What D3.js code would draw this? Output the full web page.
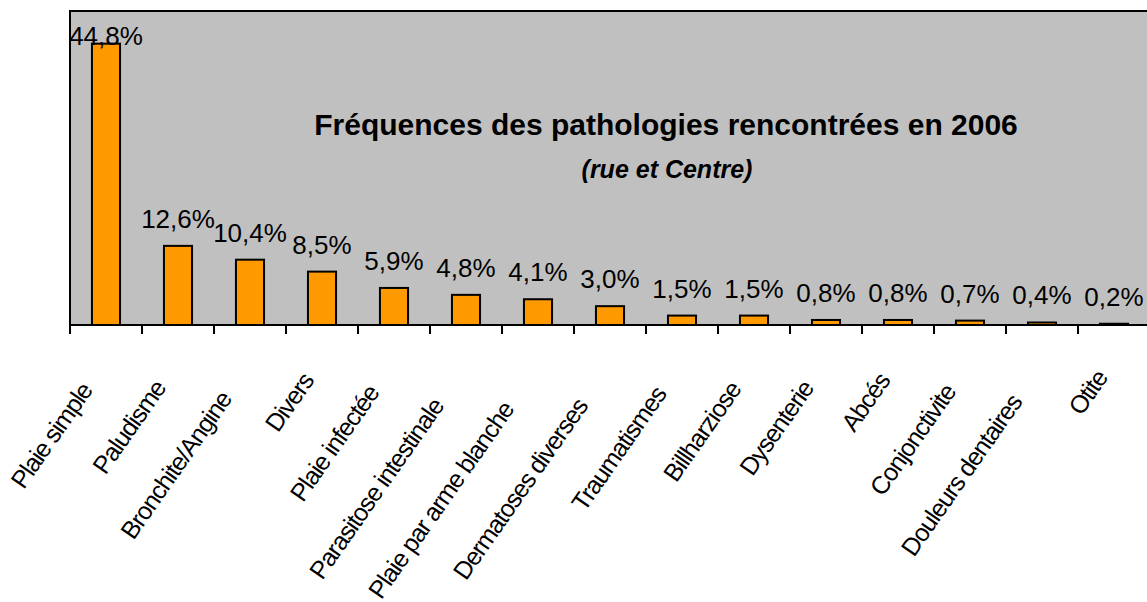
<!DOCTYPE html>
<html><head><meta charset="utf-8">
<script src="https://cdn.jsdelivr.net/npm/d3@7"></script>
<style>body{margin:0;background:#fff}svg{display:block}text{font-family:"Liberation Sans",Arial,sans-serif}</style>
</head><body><svg id="c" width="1147" height="602"></svg>
<script>
const categories = ["Plaie simple","Paludisme","Bronchite/Angine","Divers","Plaie infectée","Parasitose intestinale","Plaie par arme blanche","Dermatoses diverses","Traumatismes","Billharziose","Dysenterie","Abcés","Conjonctivite","Douleurs dentaires","Otite"];
const values = [44.8,12.6,10.4,8.5,5.9,4.8,4.1,3.0,1.5,1.5,0.8,0.8,0.7,0.4,0.2];
const title = "Fréquences des pathologies rencontrées en 2006";
const subtitle = "(rue et Centre)";

const svg = d3.select("#c");
const L = 70, R = 1150, T = 11, B = 325;
const x = d3.scaleBand().domain(categories).range([L, R]).paddingInner(0.61).paddingOuter(0.305);
const xb = d3.scaleBand().domain(categories).range([L, R]).padding(0);
const y = d3.scaleLinear().domain([0, 50]).range([B, T]);
const fmt = v => v.toFixed(1).replace(".", ",") + "%";

svg.append("rect").attr("x", L).attr("y", T).attr("width", R - L).attr("height", B - T)
  .attr("fill", "#c0c0c0").attr("stroke", "#000").attr("stroke-width", 2);

svg.append("text").attr("x", 666).attr("y", 135).attr("text-anchor", "middle")
  .attr("font-size", 30).attr("font-weight", "bold").text(title);
svg.append("text").attr("x", 667).attr("y", 178).attr("text-anchor", "middle")
  .attr("font-size", 25).attr("font-weight", "bold").attr("font-style", "italic").text(subtitle);

const data = categories.map((c, i) => ({c, v: values[i]}));
svg.selectAll("rect.bar").data(data).join("rect").attr("class", "bar")
  .attr("x", d => x(d.c)).attr("y", d => y(d.v))
  .attr("width", x.bandwidth()).attr("height", d => B - y(d.v))
  .attr("fill", "#ff9900").attr("stroke", "#000").attr("stroke-width", 2);

svg.selectAll("text.val").data(data).join("text").attr("class", "val")
  .attr("x", d => x(d.c) + x.bandwidth() / 2)
  .attr("y", d => Math.max(y(d.v) - 18, 45))
  .attr("text-anchor", "middle").attr("font-size", 26).text(d => fmt(d.v));

// axis
svg.append("line").attr("x1", L).attr("x2", R).attr("y1", B).attr("y2", B).attr("stroke", "#000").attr("stroke-width", 2);
const tickPos = categories.map(c => xb(c)).concat([R]);
svg.selectAll("line.tick").data(tickPos).join("line").attr("class", "tick")
  .attr("x1", d => d).attr("x2", d => d).attr("y1", B).attr("y2", B + 9)
  .attr("stroke", "#000").attr("stroke-width", 2);

svg.selectAll("text.cat").data(data).join("text").attr("class", "cat")
  .attr("font-size", 25).attr("letter-spacing", -1.1).attr("text-anchor", "end").text(d => d.c)
  .each(function(d) {
    const len = this.getComputedTextLength();
    const cx = xb(d.c) + xb.bandwidth() / 2;
    const ax = cx - 1 - 0.095 * len, ay = 370 + 0.17 * len;
    d3.select(this).attr("transform", `translate(${ax},${ay}) rotate(-55)`);
  });
</script></body></html>
